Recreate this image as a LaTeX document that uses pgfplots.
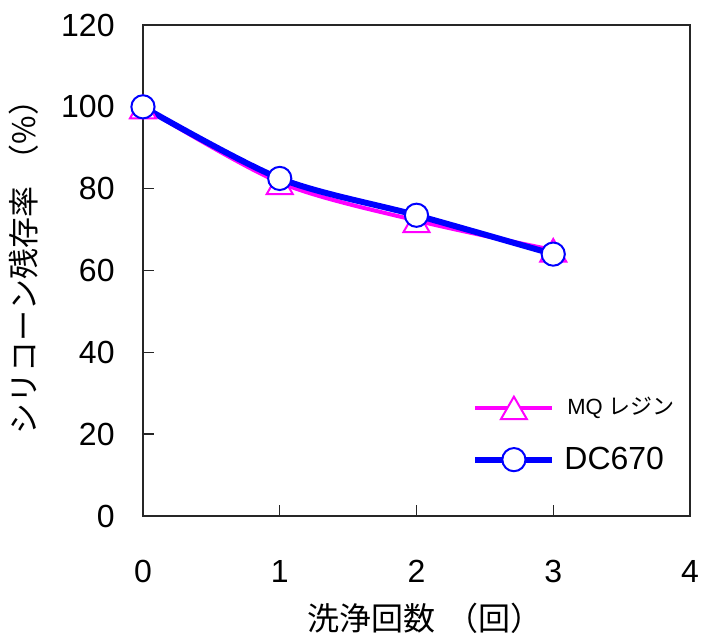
\documentclass[border=0pt]{standalone}
\usepackage{fontspec}
\setmainfont{Liberation Sans}
\newfontfamily\jp[Kerning=Off]{Noto Sans CJK JP}
\usepackage{pgfplots}
\pgfplotsset{compat=1.18}
\definecolor{mq}{RGB}{255,0,255}
\definecolor{dc}{RGB}{0,0,255}
\begin{document}
\begin{tikzpicture}
\begin{axis}[
  scale only axis,
  width=273.5pt, height=245.5pt,
  xmin=0, xmax=4, ymin=0, ymax=120,
  xtick={0,1,2,3,4}, ytick={0,20,...,120},
  tick align=inside, tick pos=left,
  major tick length=5.5pt,
  axis line style={black!85, line width=0.9pt},
  every tick/.style={black!85, line width=0.7pt},
  /pgf/number format/assume math mode=true,
  tick label style={font=\fontsize{16}{19}\selectfont, inner sep=0pt},
  xticklabel style={anchor=center, yshift=-27.5pt},
  yticklabel style={anchor=east, xshift=-14pt},
  xlabel={\jp 洗浄回数\hspace{0.35em}（回）},
  ylabel={\jp シリコーン残存率\hspace{0.35em}（\%）},
  xlabel style={font=\fontsize{16}{19}\selectfont, at={(axis description cs:0.515,-0.2077)}, anchor=center},
  ylabel style={font=\fontsize{15.5}{18}\selectfont, at={(axis description cs:-0.2176,0.522)}, anchor=center},
  clip=false,
  legend image code/.code={\draw[mark repeat=2,mark phase=2,#1] plot coordinates {(0pt,0pt) (19.25pt,0pt) (38.5pt,0pt)};},
  legend style={draw=none, fill=none, inner sep=0pt, row sep=13.9pt, column sep=4.5pt,
    nodes={inner sep=0pt}, cells={anchor=west},
    at={(axis description cs:0.6015,0.166)}, anchor=west},
  legend cell align=left,
]
\addplot[mq, line width=2pt, smooth, tension=0.5, mark=triangle*,
  mark size=7.5pt, mark options={solid, draw=mq, fill=white, line width=1pt, yshift=-2pt}]
  coordinates {(0,100) (1,81.5) (2,72.2) (3,65)};
\addplot[dc, line width=3pt, smooth, tension=0.5, mark=*,
  mark size=5.8pt, mark options={solid, draw=dc, fill=white, line width=1pt}]
  coordinates {(0,100) (1,82.5) (2,73.5) (3,64)};
\legend{{\hspace{1.5pt}\fontsize{11}{13}\selectfont MQ {\jp レジン}}, {\fontsize{16}{19}\selectfont DC670}}
\path (axis description cs:-0.2614,-0.2403) rectangle (axis description cs:1.0384,1.0509);
\end{axis}
\end{tikzpicture}
\end{document}
